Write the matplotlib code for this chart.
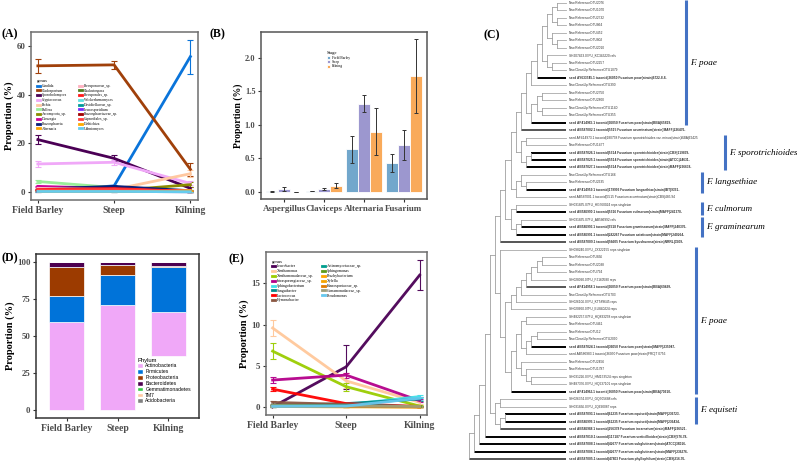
import matplotlib
matplotlib.use('Agg')
import matplotlib.pyplot as plt
from matplotlib.lines import Line2D
from matplotlib.patches import Patch
import numpy as np

plt.rcParams['font.family'] = ['Liberation Serif', 'DejaVu Serif']

# ---------------- data ----------------
stages = ['Field Barley', 'Steep', 'Kilning']

# (A) fungal genera
fungi_genus = ['Candida', 'Cladosporium', 'Sporobolomyces', 'Cryptococcus', 'Pichia',
               'Bullera', 'Ascomycota_sp.', 'Dioszegia', 'Phaeosphaeria', 'Alternaria',
               'Pleosporaceae_sp.', 'Chalastospora', 'Pleosporales_sp.', 'Wickerhamomyces',
               'Davidiellaceae_sp.', 'Leucosporidium', 'Phaeosphaeriaceae_sp.',
               'Capnodiales_sp.', 'Dothichiza', 'Udeniomyces']
fungi_mean = [[0.3, 2.5, 55.6], [51.8, 52.2, 9.3], [21.5, 13.8, 1.5], [11.5, 12.2, 3.5],
              [1.0, 1.0, 7.5], [4.3, 1.8, 0.5], [0.5, 0.5, 3.0], [2.3, 1.4, 0.3],
              [1.2, 2.3, 0.5], [0.4, 0.6, 0.6], [1.5, 1.0, 0.3], [0.5, 0.4, 0.2],
              [1.0, 1.4, 0.2], [0.3, 0.3, 0.3], [0.3, 0.2, 0.1], [0.2, 0.2, 0.1],
              [0.5, 0.5, 0.2], [0.7, 1.0, 0.2], [0.2, 0.2, 0.2], [0.2, 0.2, 0.1]]
fungi_err = [[0.1, 0.5, 7.0], [3.0, 1.5, 2.8], [2.0, 1.2, 0.6], [1.2, 1.0, 0.8],
             [0.3, 0.3, 1.5], [0.5, 0.3, 0.2], [0.2, 0.2, 1.0], [0.3, 0.2, 0.1],
             [0.2, 0.3, 0.1], [0.1, 0.1, 0.2], [0.2, 0.2, 0.1], [0.1, 0.1, 0.1],
             [0.2, 0.2, 0.1], [0.1, 0.1, 0.1], [0.1, 0.1, 0.05], [0.1, 0.1, 0.05],
             [0.1, 0.1, 0.1], [0.1, 0.2, 0.1], [0.1, 0.1, 0.1], [0.1, 0.1, 0.05]]
fungi_colors = ['#0a74da', '#a0400a', '#4b0055', '#f0a8f8', '#ffc8a0', '#99ee99', '#8b8b00',
                '#cc0099', '#0a1f7a', '#ffa500', '#ffb0c0', '#4f7f1f', '#ff1a1a', '#5fe0e0',
                '#009999', '#7b2bff', '#a00000', '#ff4040', '#ffaa00', '#66ccee']

# (B) mycotoxigenic genera
myco_genus = ['Aspergillus', 'Claviceps', 'Alternaria', 'Fusarium']
myco_field = [0.005, 0.01, 0.635, 0.425]
myco_steep = [0.04, 0.04, 1.315, 0.70]
myco_kiln = [0.0, 0.09, 0.90, 1.735]
myco_field_err = [0.005, 0.005, 0.2, 0.135]
myco_steep_err = [0.03, 0.015, 0.13, 0.22]
myco_kiln_err = [0.0, 0.04, 0.345, 0.555]

# (D) bacterial phyla
phyla = ['Actinobacteria', 'Firmicutes', 'Proteobacteria', 'Bacteroidetes',
         'Gemmatimonadetes', 'TM7', 'Acidobacteria']
phylum_base = [0, 0, 36.4]
phylum_values = [[59.4, 70.9, 29.9], [17.3, 20.1, 30.3], [19.6, 6.7, 0.8],
                 [3.6, 2.2, 2.5], [0.05, 0.05, 0.05], [0.05, 0.05, 0.05], [0.02, 0.02, 0.02]]
phylum_colors = ['#f0a8f8', '#0073d9', '#9c3b00', '#4d0050', '#33cc44', '#ffc8a0', '#808080']

# (E) bacterial genera
bact_genus = ['Leucobacter', 'Xanthomonas', 'Xanthomonadaceae_sp.', 'Intrasporangiaceae_sp.',
              'Sphingobacterium', 'Sanguibacter', 'Lactococcus', 'Hymenobacter',
              'Actinomycetaceae_sp.', 'Sphingomonas', 'Brachybacterium', 'Xylella',
              'Kineosporiaceae_sp.', 'Comamonadaceae_sp.', 'Pseudomonas']
bact_mean = [[0.05, 4.9, 16.0], [9.6, 3.2, 0.6], [6.8, 2.5, 0.15], [3.3, 3.9, 0.8],
             [0.1, 0.3, 1.3], [0.2, 0.45, 1.0], [2.2, 0.45, 0.1], [0.6, 0.35, 0.05],
             [0.25, 0.2, 0.1], [0.1, 0.1, 0.1], [0.15, 0.1, 0.05], [0.1, 0.05, 0.05],
             [0.1, 0.1, 0.05], [0.2, 0.15, 0.1], [0.1, 0.15, 1.1]]
bact_err = [[0.05, 2.7, 1.85], [0.95, 0.9, 0.2], [1.0, 0.5, 0.1], [0.35, 0.3, 0.2],
            [0.05, 0.1, 0.2], [0.05, 0.1, 0.2], [0.25, 0.1, 0.05], [0.15, 0.1, 0.03],
            [0.05, 0.05, 0.03], [0.03, 0.03, 0.03], [0.03, 0.03, 0.03], [0.03, 0.03, 0.03],
            [0.03, 0.03, 0.03], [0.05, 0.05, 0.03], [0.03, 0.05, 0.2]]
bact_colors = ['#4b0055', '#ffc89a', '#9acd00', '#b4008a', '#40e0e8', '#008b8b', '#ff0000',
               '#8b5742', '#009e8e', '#5d9b1b', '#ffa500', '#f4a300', '#e07b00', '#9e9e7a',
               '#66c8ee']

# (C) ITS tree of Fusarium
tree_leaves = [
    "New.ReferenceOTU2076", "New.ReferenceOTU1070", "New.ReferenceOTU2732",
    "New.ReferenceOTU864", "New.ReferenceOTU452", "New.ReferenceOTU802",
    "New.ReferenceOTU2010", "SH207463.07FU_KC343220 refs", "New.ReferenceOTU2257",
    "New.CleanUp.ReferenceOTU1079",
    "seed AY633745.1 taxonid|36050 Fusarium poae(strain)6722-8-8-",
    "New.CleanUp.ReferenceOTU390", "New.ReferenceOTU2750", "New.ReferenceOTU2800",
    "New.CleanUp.ReferenceOTU1140", "New.CleanUp.ReferenceOTU355",
    "seed AF414965.1 taxonid|36050 Fusarium poae(strain)BBA|65819-",
    "seed AB587002.1 taxonid|5515 Fusarium acuminatum(strain)MAFF|236476-",
    "seed AF414973.1 taxonid|180758 Fusarium sporotrichioides var. minus(strain)BBA|62425",
    "New.ReferenceOTU1477",
    "seed AB587026.1 taxonid|5514 Fusarium sporotrichioides(strain)CBS|119839-",
    "seed AB587025.1 taxonid|5514 Fusarium sporotrichioides(strain)ATCC|24631-",
    "seed AB587027.1 taxonid|5514 Fusarium sporotrichioides(strain)MAFF|236638-",
    "New.CleanUp.ReferenceOTU166", "New.ReferenceOTU2635",
    "seed AF414959.1 taxonid|179993 Fusarium langsethiae(strain)IBT|9351-",
    "seed AB587001.1 taxonid|5515 Fusarium acuminatum(strain)CBS|485.94",
    "SH031835.07FU_HG760024 reps singleton",
    "seed AB586990.1 taxonid|5516 Fusarium culmorum(strain)MAFF|241370-",
    "SH031835.07FU_AB586992 refs",
    "seed AB586993.1 taxonid|5518 Fusarium graminearum(strain)MAFF|240376-",
    "seed AB586991.1 taxonid|282267 Fusarium asiaticum(strain)MAFF|240264-",
    "seed AB587009.1 taxonid|56605 Fusarium kyushuense(strain)NRRL|3509-",
    "SH098240.07FU_JX322155 reps singleton", "New.ReferenceOTU836",
    "New.ReferenceOTU2038", "New.ReferenceOTU794", "SH028090.07FU_FJ160580 reps",
    "seed AF414958.1 taxonid|36050 Fusarium poae(strain)BBA|69499-",
    "New.CleanUp.ReferenceOTU703", "SH026106.07FU_KT589645 reps",
    "SH020660.07FU_EU840224 reps", "SH482257.07FU_HQ833258 reps singleton",
    "New.ReferenceOTU461", "New.ReferenceOTU12", "New.CleanUp.ReferenceOTU2090",
    "seed AB587024.1 taxonid|36050 Fusarium poae(strain)MAFF|235947-",
    "seed AB586983.1 taxonid|36050 Fusarium poae(strain)FRC|T 0756",
    "New.ReferenceOTU2456", "New.ReferenceOTU1787",
    "SH031226.07FU_HM153524 reps singleton", "SH487376.07FU_HQ637101 reps singleton",
    "seed AF414963.1 taxonid|36050 Fusarium poae(strain)BBA|70610-",
    "SH026374.07FU_GQ505688 refs", "SH031836.07FU_JQ690087 reps",
    "seed AB587093.1 taxonid|61235 Fusarium equiseti(strain)MAFF|236723-",
    "seed AB586995.1 taxonid|61235 Fusarium equiseti(strain)MAFF|236434-",
    "seed AB586988.1 taxonid|256378 Fusarium incarnatum(strain)MAFF|236521-",
    "seed AB587010.1 taxonid|117187 Fusarium verticillioides(strain)CBS|576.78-",
    "seed AB587008.1 taxonid|42677 Fusarium subglutinans(strain)ATCC|38016-",
    "seed AB587006.1 taxonid|42677 Fusarium subglutinans(strain)MAFF|236376-",
    "seed AB587005.1 taxonid|47803 Fusarium phyllophilum(strain)CBS|216.76-",
]
g1 = [[[[0, 1], [2, 3]], [4, [5, 6]]], [7, [8, 9]]]
top_poae = [[[[g1, 10], 11], [[[12, 13], [14, 15]], 16]], 17]
spor = [[18, 19], [[20, 21], 22]]
lang = [[23, [24, 25]], 26]
culm_gram = [[27, 28], [[29, 30], 31]]
upper = [[[[top_poae, spor], lang], culm_gram], 32]
poae2a = [[[[[[[34, 35], 36], 37], 38], 39], 40], 41]
poae2b = [[[[42, 43], [[[44, 45], 46], 47]], [48, [49, [50, 51]]]], 52]
poae2 = [33, [poae2a, poae2b]]
equi = [[53, 54], [[55, 56], 57]]
tree = [[[[[[upper, poae2], equi], 58], 59], 60], 61]
seed_bold = [10, 16, 17, 20, 21, 22, 25, 28, 30, 31, 32, 38, 46, 52, 55, 56, 57, 58, 59, 60, 61]
seed_grey = [17, 32, 38, 57, 61]
clade_names = ['F. poae', 'F. sporotrichioides', 'F. langsethiae', 'F. culmorum',
               'F. graminearum', 'F. poae', 'F. equiseti']
clade_first = [0, 18, 23, 27, 29, 33, 53]
clade_last = [16, 22, 25, 28, 31, 52, 56]

# ---------------- figure ----------------
W, H = 797, 462
fig = plt.figure(figsize=(W / 100, H / 100), dpi=100)


def px_axes(x0, y0, x1, y1):
    return fig.add_axes([x0 / W, 1 - y1 / H, (x1 - x0) / W, (y1 - y0) / H])


def style(ax, frame='#6e6e6e', fs=7.5):
    for s in ax.spines.values():
        s.set_color(frame)
        s.set_linewidth(1.1)
    ax.tick_params(length=2.5, width=0.8, color='#333333', labelcolor='#4d4d4d', pad=1.5)
    for lab in ax.get_xticklabels() + ax.get_yticklabels():
        lab.set_fontweight('bold')
    ax.set_ylabel('Proportion (%)', fontweight='bold', fontsize=fs, labelpad=1.5)


x = np.arange(1, 4)

# (A)
axA = px_axes(31, 32, 198, 200)
for g, m, e, c in zip(fungi_genus, fungi_mean, fungi_err, fungi_colors):
    axA.errorbar(x, m, yerr=e, color=c, lw=2, elinewidth=0.8, capsize=2, capthick=0.8,
                 ecolor=c, label=g)
axA.set_xlim(0.91, 3.1)
axA.set_ylim(-3.3, 65.7)
axA.set_yticks([0, 20, 40, 60])
axA.set_xticks(x)
axA.set_xticklabels(stages, fontsize=7)
axA.tick_params(axis='y', labelsize=6.5)
style(axA)
hA = [Line2D([], [], color=c, lw=2) for c in fungi_colors]
legA = axA.legend(hA, fungi_genus, ncol=2, loc='upper left', bbox_to_anchor=(0.02, 0.735),
                  fontsize=2.7, title='genus', title_fontsize=3.4, frameon=False,
                  handlelength=0.9, handletextpad=0.4, labelspacing=0.2, columnspacing=3.2,
                  borderpad=0.2)
legA._legend_box.align = 'left'
fig.text(2 / W, 1 - 34 / H, '(A)', fontsize=8.5, fontweight='bold', va='center')

# (B)
axB = px_axes(261, 32, 427, 199)
xb = np.arange(1, 5)
bw = 0.3
b_colors = ['#72a7cc', '#9c97cf', '#f9aa5a']
b_labels = ['Field Barley', 'Steep', 'Kilning']
for k, (vals, errs) in enumerate([(myco_field, myco_field_err), (myco_steep, myco_steep_err),
                                   (myco_kiln, myco_kiln_err)]):
    axB.bar(xb + (k - 1) * bw, vals, width=bw, color=b_colors[k], edgecolor='white', lw=0.6,
            label=b_labels[k])
    axB.errorbar(xb + (k - 1) * bw, vals, yerr=errs, fmt='none', ecolor='#333333',
                 elinewidth=0.7, capsize=1.5, capthick=0.7)
axB.set_xlim(0.42, 4.58)
axB.set_ylim(-0.11, 2.39)
axB.set_yticks([0, 0.5, 1.0, 1.5, 2.0])
axB.set_yticklabels(['0.0', '0.5', '1.0', '1.5', '2.0'])
axB.set_xticks(xb)
axB.set_xticklabels(myco_genus, fontsize=6.5)
axB.tick_params(axis='y', labelsize=6)
style(axB, frame='#555555', fs=7)
legB = axB.legend(loc='upper left', bbox_to_anchor=(0.38, 0.9), fontsize=2.6, title='Stage',
                  title_fontsize=3.4, frameon=False, handlelength=1.0, handleheight=0.9,
                  handletextpad=0.4, labelspacing=0.1, borderpad=0.2)
legB._legend_box.align = 'left'
fig.text(210 / W, 1 - 34 / H, '(B)', fontsize=8.5, fontweight='bold', va='center')

# (D)
axD = px_axes(36, 254, 199, 418)
bottom = np.array(phylum_base, dtype=float)
for p, vals, c in zip(phyla, phylum_values, phylum_colors):
    axD.bar(x, vals, bottom=bottom, width=0.7, color=c, edgecolor='white', lw=0.5, label=p)
    bottom += np.array(vals)
axD.set_xlim(0.4, 3.6)
axD.set_ylim(-5.2, 105.2)
axD.set_yticks([0, 25, 50, 75, 100])
axD.set_xticks(x)
axD.set_xticklabels(stages, fontsize=7)
axD.tick_params(axis='y', labelsize=6.3)
style(axD, frame='#333333')
hD = [Patch(facecolor=c, edgecolor='white') for c in phylum_colors]
legD = axD.legend(hD, phyla, loc='upper left', bbox_to_anchor=(0.6, 0.39), frameon=False,
                  title='Phylum', title_fontsize=4.2, handlelength=1.2,
                  handleheight=1.1, handletextpad=0.4, labelspacing=0.15, borderpad=0.2,
                  prop={'family': 'Liberation Sans', 'size': 3.6})
legD.get_title().set_family('Liberation Sans')
legD._legend_box.align = 'left'
fig.text(1 / W, 1 - 258 / H, '(D)', fontsize=8.5, fontweight='bold', va='center')

# (E)
axE = px_axes(266, 252, 427, 415)
for g, m, e, c in zip(bact_genus, bact_mean, bact_err, bact_colors):
    axE.errorbar(x, m, yerr=e, color=c, lw=2, elinewidth=0.8, capsize=2, capthick=0.8,
                 ecolor=c, alpha=0.95, label=g)
axE.set_xlim(0.91, 3.1)
axE.set_ylim(-0.93, 18.8)
axE.set_yticks([0, 5, 10, 15])
axE.set_xticks(x)
axE.set_xticklabels(stages, fontsize=7)
axE.tick_params(axis='y', labelsize=6.5)
style(axE)
hE = [Line2D([], [], color=c, lw=2) for c in bact_colors]
legE = axE.legend(hE, bact_genus, ncol=2, loc='upper left', bbox_to_anchor=(0.02, 0.97),
                  fontsize=2.8, title='genus', title_fontsize=3.4, frameon=False,
                  handlelength=0.9, handletextpad=0.4, labelspacing=0.22, columnspacing=2.0,
                  borderpad=0.2)
legE._legend_box.align = 'left'
fig.text(228 / W, 1 - 259 / H, '(E)', fontsize=8.5, fontweight='bold', va='center')

# (C) tree, axes in pixel units
axC = fig.add_axes([440 / W, 0, (W - 440) / W, 1])
axC.set_xlim(440, W)
axC.set_ylim(61.4, -0.4)
axC.axis('off')
root_x, step, tip_x = 469, 5.2, 566


def draw(node, depth):
    nx = root_x + depth * step
    kids = []
    for ch in node:
        if isinstance(ch, int):
            cy, cx = ch, tip_x
            if ch in seed_bold:
                col = '#555555' if ch in seed_grey else 'black'
                axC.plot([nx, cx], [cy, cy], color=col, lw=1.4, solid_capstyle='butt')
            else:
                axC.plot([nx, cx], [cy, cy], color='#a8a8a8', lw=0.6)
        else:
            cy, cx = draw(ch, depth + 1)
            axC.plot([nx, cx], [cy, cy], color='#a0a0a0', lw=0.6)
        kids.append(cy)
    axC.plot([nx, nx], [min(kids), max(kids)], color='#a0a0a0', lw=0.6)
    return float(np.mean(kids)), nx


draw(tree, 0)
for i, lab in enumerate(tree_leaves):
    axC.text(tip_x + 3, i, lab, fontsize=2.3, va='center', family='Liberation Sans',
             fontweight='bold' if i in seed_bold else 'normal', color='#333333')
bar_x = [686, 725, 702, 702, 702, 696, 696]
for name, a, b, bx in zip(clade_names, clade_first, clade_last, bar_x):
    axC.plot([bx, bx], [a - 0.35, b + 0.35], color='#4472c4', lw=2.2, solid_capstyle='butt')
    axC.text(bx + 4, (a + b) / 2, name, fontsize=6.6, style='italic', va='center')
fig.text(483 / W, 1 - 35 / H, '(C)', fontsize=8.5, fontweight='bold', va='center')

fig.savefig('out.png', dpi=100)
